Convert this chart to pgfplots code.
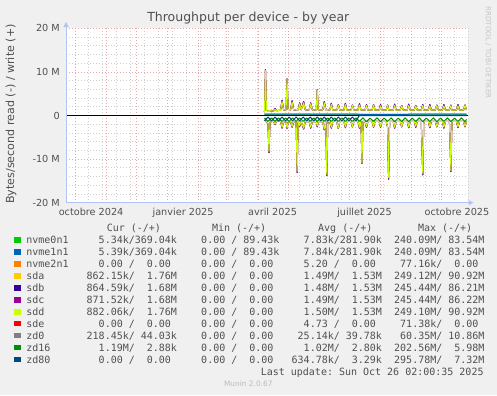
\documentclass[border=0pt]{standalone}
\usepackage{fontspec}
\setmainfont{DejaVu Sans}
\newfontfamily\monofont{DejaVu Sans Mono}
\usepackage{pgfplots}
\pgfplotsset{compat=1.18}
\usepackage{pgfplotstable}
\usetikzlibrary{arrows.meta}

\definecolor{bgc}{HTML}{F0F0F0}
\definecolor{textc}{HTML}{505050}
\definecolor{axisc}{HTML}{B4C3F5}
\definecolor{gridred}{HTML}{E8A6A6}
\definecolor{gridgray}{HTML}{CFCFCF}
\definecolor{cnvmea}{HTML}{00CC00}
\definecolor{cnvmeb}{HTML}{0066B3}
\definecolor{cnvmec}{HTML}{FF8000}
\definecolor{csda}{HTML}{FFCC00}
\definecolor{csdb}{HTML}{330099}
\definecolor{csdc}{HTML}{990099}
\definecolor{csdd}{HTML}{CCFF00}
\definecolor{csde}{HTML}{FF0000}
\definecolor{czda}{HTML}{808080}
\definecolor{czdb}{HTML}{008F00}
\definecolor{czdc}{HTML}{00487D}

% day 0 = 1 Oct 2024; values in MB/s (read negative, write positive)
\pgfplotstableread{
day aW aR bW bR dW dR
188.5 0.8 -0.8 0.8 -0.8 0.8 -0.8
189.5 10.5 -1.2 10.5 -1.2 10.3 -1.2
190.5 1.2 -1.4 1.2 -1.4 1.2 -1.4
192 1.1 -1.9 1.1 -2.0 1.0 -1.8
193 1.1 -8.4 1.1 -8.5 1.1 -8.2
194 1.1 -1.5 1.1 -1.5 1.1 -1.5
197.5 1.0 -1.3 1.0 -1.3 1.0 -1.3
199 1.5 -2.1 1.6 -2.1 1.4 -2.0
200.5 1.1 -1.3 1.1 -1.3 1.1 -1.3
204.5 1.2 -1.3 1.2 -1.3 1.2 -1.3
206 3.3 -2.8 3.5 -2.9 3.2 -2.7
207.5 1.3 -1.4 1.3 -1.4 1.3 -1.4
210 1.3 -1.5 1.3 -1.5 1.3 -1.5
211 8.5 -3.0 8.4 -3.0 8.3 -2.9
212 1.4 -1.5 1.4 -1.5 1.4 -1.5
214.5 1.3 -1.4 1.3 -1.4 1.3 -1.4
216 3.2 -2.6 3.4 -2.7 3.1 -2.5
217.5 1.3 -1.4 1.3 -1.4 1.3 -1.4
220 1.3 -1.5 1.3 -1.5 1.3 -1.5
221 1.4 -13.0 1.4 -13.1 1.4 -12.8
222 1.3 -1.5 1.3 -1.5 1.3 -1.5
223.5 2.8 -2.4 2.9 -2.5 2.7 -2.3
225 1.3 -1.4 1.3 -1.4 1.3 -1.4
227.5 3.0 -3.0 3.2 -3.1 2.9 -2.9
229 1.3 -1.4 1.3 -1.4 1.3 -1.4
233 1.3 -1.4 1.3 -1.4 1.3 -1.4
234.5 2.8 -2.8 2.9 -2.9 2.7 -2.7
236 1.3 -1.4 1.3 -1.4 1.3 -1.4
240 1.3 -1.4 1.3 -1.4 1.3 -1.4
241 6.0 -2.5 5.9 -2.6 5.8 -2.4
242 1.3 -1.4 1.3 -1.4 1.3 -1.4
246.5 1.3 -1.4 1.3 -1.4 1.3 -1.4
248 3.0 -3.2 3.2 -3.3 2.9 -3.1
249.5 1.3 -1.4 1.3 -1.4 1.3 -1.4
250.5 1.4 -13.7 1.4 -13.8 1.4 -13.5
251.5 1.3 -1.4 1.3 -1.4 1.3 -1.4
253.5 1.25 -1.35 1.25 -1.35 1.25 -1.35
255 2.6 -2.8 2.8 -2.9 2.5 -2.7
256.5 1.25 -1.35 1.25 -1.35 1.25 -1.35
260.5 1.25 -1.35 1.25 -1.35 1.25 -1.35
262 2.5 -3.0 2.5 -3.0 2.4 -2.9
263.5 1.25 -1.35 1.25 -1.35 1.25 -1.35
267.5 1.25 -1.35 1.25 -1.35 1.25 -1.35
269 2.6 -2.7 2.8 -2.8 2.5 -2.6
270.5 1.25 -1.35 1.25 -1.35 1.25 -1.35
274.5 1.25 -1.35 1.25 -1.35 1.25 -1.35
276 2.4 -2.6 2.4 -2.6 2.3 -2.5
277.5 1.25 -1.35 1.25 -1.35 1.25 -1.35
281.5 1.25 -1.35 1.25 -1.35 1.25 -1.35
283 2.5 -2.8 2.7 -2.9 2.4 -2.7
284.5 1.25 -1.35 1.25 -1.35 1.25 -1.35
285.5 1.3 -11.0 1.3 -11.0 1.3 -10.8
286.5 1.25 -1.35 1.25 -1.35 1.25 -1.35
288.5 1.25 -1.35 1.25 -1.35 1.25 -1.35
290 2.4 -2.6 2.5 -2.7 2.3 -2.5
291.5 1.25 -1.35 1.25 -1.35 1.25 -1.35
295.5 1.25 -1.35 1.25 -1.35 1.25 -1.35
297 2.5 -2.7 2.5 -2.7 2.4 -2.6
298.5 1.25 -1.35 1.25 -1.35 1.25 -1.35
302.5 1.25 -1.35 1.25 -1.35 1.25 -1.35
304 2.3 -2.6 2.5 -2.7 2.2 -2.5
305.5 1.25 -1.35 1.25 -1.35 1.25 -1.35
309.5 1.25 -1.35 1.25 -1.35 1.25 -1.35
311 2.4 -2.7 2.4 -2.7 2.3 -2.6
312 1.3 -14.4 1.3 -14.6 1.3 -14.2
313 1.25 -1.35 1.25 -1.35 1.25 -1.35
316.5 1.25 -1.35 1.25 -1.35 1.25 -1.35
318 2.4 -2.8 2.6 -2.9 2.3 -2.7
319.5 1.25 -1.35 1.25 -1.35 1.25 -1.35
323.5 1.25 -1.35 1.25 -1.35 1.25 -1.35
325 2.3 -2.6 2.3 -2.6 2.2 -2.5
326.5 1.25 -1.35 1.25 -1.35 1.25 -1.35
330.5 1.25 -1.35 1.25 -1.35 1.25 -1.35
332 2.4 -2.7 2.6 -2.8 2.3 -2.6
333.5 1.25 -1.35 1.25 -1.35 1.25 -1.35
337.5 1.25 -1.35 1.25 -1.35 1.25 -1.35
339 2.3 -2.6 2.3 -2.7 2.2 -2.5
340.5 1.25 -1.35 1.25 -1.35 1.25 -1.35
344.5 1.25 -1.35 1.25 -1.35 1.25 -1.35
346 2.4 -13.5 2.5 -13.6 2.3 -13.3
347 1.25 -1.35 1.25 -1.35 1.25 -1.35
351.5 1.25 -1.35 1.25 -1.35 1.25 -1.35
353 2.3 -2.7 2.5 -2.8 2.2 -2.6
354.5 1.25 -1.35 1.25 -1.35 1.25 -1.35
358.5 1.25 -1.35 1.25 -1.35 1.25 -1.35
360 2.4 -2.6 2.4 -2.6 2.3 -2.5
361.5 1.25 -1.35 1.25 -1.35 1.25 -1.35
365.5 1.25 -1.35 1.25 -1.35 1.25 -1.35
367 2.3 -2.8 2.5 -2.9 2.2 -2.7
368.5 1.25 -1.35 1.25 -1.35 1.25 -1.35
372.5 1.25 -1.35 1.25 -1.35 1.25 -1.35
374 2.4 -12.8 2.4 -12.9 2.3 -12.6
375 1.25 -1.35 1.25 -1.35 1.25 -1.35
379.5 1.25 -1.35 1.25 -1.35 1.25 -1.35
381 2.3 -2.7 2.5 -2.8 2.2 -2.6
382.5 1.25 -1.35 1.25 -1.35 1.25 -1.35
386.5 1.25 -1.35 1.25 -1.35 1.25 -1.35
388 2.4 -2.6 2.4 -2.6 2.3 -2.5
389.5 1.25 -1.35 1.25 -1.35 1.25 -1.35
}\disks

\pgfplotstableread{
day zR
188.5 -0.55
192 -1.35
195.5 -0.55
199 -1.35
202.5 -0.55
206 -1.35
209.5 -0.55
213 -1.35
216.5 -0.55
220 -1.35
223.5 -0.55
227 -1.35
230.5 -0.55
234 -1.35
237.5 -0.55
241 -1.35
244.5 -0.55
248 -1.35
251.5 -0.55
255 -1.35
258.5 -0.55
262 -1.35
265.5 -0.55
269 -1.35
272.5 -0.55
276 -1.35
279.5 -0.55
283 -1.35
286.5 -0.55
290 -1.40
293.5 -0.60
297 -1.35
300.5 -0.55
304 -1.40
307.5 -0.60
311 -1.35
314.5 -0.55
318 -1.40
321.5 -0.60
325 -1.35
328.5 -0.55
332 -1.40
335.5 -0.60
339 -1.35
342.5 -0.55
346 -1.40
349.5 -0.60
353 -1.35
356.5 -0.55
360 -1.40
363.5 -0.60
367 -1.35
370.5 -0.55
374 -1.40
377.5 -0.60
381 -1.35
384.5 -0.55
388 -1.40
389.5 -0.90
}\zdsixteen

\pgfplotstableread{
day xR
188.5 -1.25
192 -0.35
195.5 -1.25
199 -0.35
202.5 -1.25
206 -0.35
209.5 -1.25
213 -0.35
216.5 -1.25
220 -0.35
223.5 -1.25
227 -0.35
230.5 -1.25
234 -0.35
237.5 -1.25
241 -0.35
244.5 -1.25
248 -0.35
251.5 -1.25
255 -0.35
258.5 -1.25
262 -0.35
265.5 -1.25
269 -0.35
272.5 -1.25
276 -0.35
279.5 -1.25
283 0
389.5 0
}\zdeighty

\newcommand{\legfont}{\monofont\fontsize{10bp}{12bp}\selectfont\color{textc}}
\newcommand{\lrow}[7]{%
  \fill[#2] (14,{151.5-11.95*#1+0.7}) rectangle (20.5,{151.5-11.95*#1+6.2});
  \node[anchor=base west, inner sep=0pt] at (26.2,{151.5-11.95*#1}) {\legfont #3};
  \node[anchor=base west, inner sep=0pt] at (86.5,{151.5-11.95*#1}) {\legfont #4};
  \node[anchor=base west, inner sep=0pt] at (189.0,{151.5-11.95*#1}) {\legfont #5};
  \node[anchor=base west, inner sep=0pt] at (291.5,{151.5-11.95*#1}) {\legfont #6};
  \node[anchor=base west, inner sep=0pt] at (394.0,{151.5-11.95*#1}) {\legfont #7};
}

\begin{document}
\begin{tikzpicture}[x=1bp,y=1bp]
\path[use as bounding box, fill=bgc] (0,0) rectangle (497,395);
\fill[white] (66,192.3) rectangle (468,366.7);
\begin{axis}[
  at={(66bp,192.3bp)}, anchor=south west,
  scale only axis, width=402bp, height=174.4bp,
  xmin=-8.96, xmax=391, ymin=-20, ymax=20,
  axis lines=left, axis line style={draw=none},
  tick style={draw=none}, major tick length=0pt, minor tick length=0pt,
  xtick={16,107.5,196.5,288,380},
  xticklabels={octobre 2024,janvier 2025,avril 2025,juillet 2025,octobre 2025},
  minor xtick={13,27,...,391},
  extra x ticks={0,31,61,92,123,151,182,212,243,273,304,335,365},
  extra x tick labels={},
  extra x tick style={grid=major},
  xmajorgrids=false, xminorgrids=true,
  ytick={-20,-10,0,10,20},
  yticklabels={-20 M,-10 M,0,10 M,20 M},
  minor ytick={-18,-16,...,18},
  ymajorgrids=true, yminorgrids=true,
  major grid style={draw=gridred, dash pattern=on 1bp off 2bp, line width=0.8bp},
  minor grid style={draw=gridgray, dash pattern=on 1bp off 2bp, line width=0.8bp},
  ticklabel style={font=\fontsize{9.7bp}{11bp}\selectfont, text=textc},
  xticklabel style={anchor=base, yshift=-12.7bp, inner sep=0pt},
  yticklabel style={anchor=east, xshift=-6bp, inner sep=0pt},
  every axis plot/.append style={line width=1bp, mark=none, line join=round},
]
\addplot[black] coordinates {(-8.96,0) (391,0)};
\addplot[cnvmea] coordinates {(188.5,0.3) (250,0.3) (300,0.28) (389.5,0.3)};
\addplot[cnvmeb] coordinates {(188.5,0.3) (250,0.3) (300,0.28) (389.5,0.3)};
\addplot[csda] table[x=day,y=aW] {\disks};
\addplot[csda] table[x=day,y=aR] {\disks};
\addplot[csdb] table[x=day,y=bW] {\disks};
\addplot[csdb] table[x=day,y=bR] {\disks};
\addplot[csdc] table[x=day,y=bW] {\disks};
\addplot[csdc] table[x=day,y=bR] {\disks};
\addplot[csdd] table[x=day,y=dW] {\disks};
\addplot[csdd] table[x=day,y=dR] {\disks};
\addplot[czdb] table[x=day,y=zR] {\zdsixteen};
\addplot[czdc] table[x=day,y=xR] {\zdeighty};
\end{axis}
\draw[axisc, line width=1bp, -{Triangle[width=5bp,length=5bp]}] (66,192.3) -- (473.5,192.3);
\draw[axisc, line width=1bp, -{Triangle[width=5bp,length=5bp]}] (66,192.3) -- (66,373);

\node[anchor=base, inner sep=0pt, text=textc, font=\fontsize{12.5bp}{14bp}\selectfont] at (248.3,373.2) {Throughput per device - by year};
\node[rotate=90, inner sep=0pt, text=textc, font=\fontsize{11.1bp}{13bp}\selectfont] at (11,281) {Bytes/second read (-) / write (+)};
\node[rotate=-90, inner sep=0pt, text=black!22, font=\fontsize{7.2bp}{8bp}\selectfont] at (488.3,342.5) {RRDTOOL / TOBI OETIKER};

\node[anchor=base west, inner sep=0pt] at (106.6,163.45) {\legfont Cur~(-/+)};
\node[anchor=base west, inner sep=0pt] at (211.8,163.45) {\legfont Min~(-/+)};
\node[anchor=base west, inner sep=0pt] at (318.0,163.45) {\legfont Avg~(-/+)};
\node[anchor=base west, inner sep=0pt] at (417.8,163.45) {\legfont Max~(-/+)};

\lrow{0}{cnvmea}{nvme0n1}{~~5.34k/369.04k}{~~0.00~/~89.43k}{~~7.83k/281.90k}{240.09M/~83.54M}
\lrow{1}{cnvmeb}{nvme1n1}{~~5.39k/369.04k}{~~0.00~/~89.43k}{~~7.84k/281.90k}{240.09M/~83.54M}
\lrow{2}{cnvmec}{nvme2n1}{~~0.00~/~~0.00}{~~0.00~/~~0.00}{~~5.20~/~~0.00}{~77.16k/~~0.00}
\lrow{3}{csda}{sda}{862.15k/~~1.76M}{~~0.00~/~~0.00}{~~1.49M/~~1.53M}{249.12M/~90.92M}
\lrow{4}{csdb}{sdb}{864.59k/~~1.68M}{~~0.00~/~~0.00}{~~1.48M/~~1.53M}{245.44M/~86.21M}
\lrow{5}{csdc}{sdc}{871.52k/~~1.68M}{~~0.00~/~~0.00}{~~1.49M/~~1.53M}{245.44M/~86.22M}
\lrow{6}{csdd}{sdd}{882.06k/~~1.76M}{~~0.00~/~~0.00}{~~1.50M/~~1.53M}{249.10M/~90.92M}
\lrow{7}{csde}{sde}{~~0.00~/~~0.00}{~~0.00~/~~0.00}{~~4.73~/~~0.00}{~71.38k/~~0.00}
\lrow{8}{czda}{zd0}{218.45k/~44.03k}{~~0.00~/~~0.00}{~25.14k/~39.78k}{~60.35M/~10.86M}
\lrow{9}{czdb}{zd16}{~~1.19M/~~2.88k}{~~0.00~/~~0.00}{~~1.02M/~~2.80k}{202.56M/~~5.98M}
\lrow{10}{czdc}{zd80}{~~0.00~/~~0.00}{~~0.00~/~~0.00}{634.78k/~~3.29k}{295.78M/~~7.32M}

\node[anchor=base west, inner sep=0pt] at (260.6,20) {\legfont Last~update:~Sun~Oct~26~02:00:35~2025};
\node[anchor=base, inner sep=0pt, text=black!27, font=\fontsize{7.4bp}{8bp}\selectfont] at (248.3,9) {Munin 2.0.67};
\end{tikzpicture}
\end{document}
